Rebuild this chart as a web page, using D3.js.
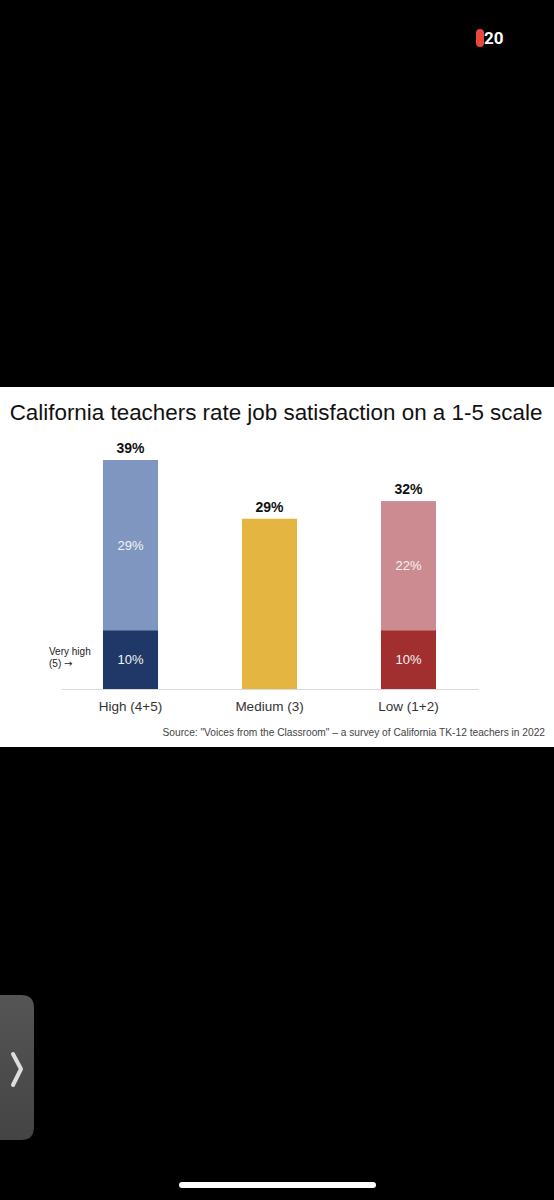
<!DOCTYPE html>
<html>
<head>
<meta charset="utf-8">
<script src="https://cdn.jsdelivr.net/npm/d3@7"></script>
<style>
  html, body { margin: 0; padding: 0; background: #000; }
  svg { display: block; }
</style>
</head>
<body>
<script>
// chart data
var categories = ["High (4+5)", "Medium (3)", "Low (1+2)"];
var totals = [39, 29, 32];
var topParts = [29, 29, 22];     // upper segment of each bar
var bottomParts = [10, 0, 10];   // "very high" / "very low" segment
var totalLabels = ["39%", "29%", "32%"];
var topLabels = ["29%", "", "22%"];
var bottomLabels = ["10%", "", "10%"];

var svgWidth = 554, svgHeight = 1200;

var svg = d3.select("body").append("svg")
    .attr("width", svgWidth)
    .attr("height", svgHeight);

// black phone background
svg.append("rect").attr("width", svgWidth).attr("height", svgHeight).attr("fill", "#000");

// status counter top right
svg.append("rect")
    .attr("x", 476).attr("y", 29).attr("width", 8).attr("height", 18)
    .attr("rx", 4).attr("fill", "#e8483a");
svg.append("text")
    .attr("x", 484).attr("y", 44)
    .attr("font-family", "Roboto, 'Open Sans', sans-serif")
    .attr("font-weight", "bold")
    .attr("font-size", "17px")
    .attr("fill", "#fff")
    .text("20");

// white chart panel
svg.append("rect")
    .attr("x", 0).attr("y", 387).attr("width", svgWidth).attr("height", 360)
    .attr("fill", "#fff");

svg.append("text")
    .attr("x", 276).attr("y", 420)
    .attr("text-anchor", "middle")
    .attr("font-family", "'Liberation Sans', Arial, sans-serif")
    .attr("font-size", "22.4px")
    .attr("fill", "#111")
    .text("California teachers rate job satisfaction on a 1-5 scale");

// scales
var baseY = 689;
var x = d3.scaleBand()
    .domain(categories)
    .range([61, 478])
    .paddingInner(0.604)
    .paddingOuter(0.302);

var y = d3.scaleLinear()
    .domain([0, 39])
    .range([baseY, 460]);

var colorsTop = ["#7f96c0", "#e5b541", "#cc8b91"];
var colorsBottom = ["#1f3868", "#e5b541", "#a22f2f"];

var chartGroup = svg.append("g");

// baseline axis
var xAxis = d3.axisBottom(x).tickSize(0).tickPadding(12);
var axisG = chartGroup.append("g")
    .attr("transform", "translate(0," + baseY + ")")
    .call(xAxis);
axisG.select(".domain").attr("stroke", "#d9d9d9").attr("stroke-width", 1.2);
axisG.selectAll("text")
    .attr("font-family", "'Liberation Sans', Arial, sans-serif")
    .attr("font-size", "13.5px")
    .attr("fill", "#333");

// upper segments
chartGroup.selectAll(".top-bar")
    .data(categories)
    .enter().append("rect")
    .attr("class", "top-bar")
    .attr("x", function(d) { return x(d); })
    .attr("width", x.bandwidth())
    .attr("y", function(d, i) { return y(totals[i]); })
    .attr("height", function(d, i) { return y(bottomParts[i]) - y(totals[i]); })
    .attr("fill", function(d, i) { return colorsTop[i]; });

// lower segments
chartGroup.selectAll(".bottom-bar")
    .data(categories)
    .enter().append("rect")
    .attr("class", "bottom-bar")
    .attr("x", function(d) { return x(d); })
    .attr("width", x.bandwidth())
    .attr("y", function(d, i) { return y(bottomParts[i]); })
    .attr("height", function(d, i) { return y(0) - y(bottomParts[i]); })
    .attr("fill", function(d, i) { return colorsBottom[i]; });

// total labels
chartGroup.selectAll(".total")
    .data(categories)
    .enter().append("text")
    .attr("class", "total")
    .attr("x", function(d) { return x(d) + x.bandwidth() / 2; })
    .attr("y", function(d, i) { return y(totals[i]) - 7; })
    .attr("text-anchor", "middle")
    .attr("font-family", "'Liberation Sans', Arial, sans-serif")
    .attr("font-weight", "bold")
    .attr("font-size", "14px")
    .attr("fill", "#111")
    .text(function(d, i) { return totalLabels[i]; });

// segment labels
chartGroup.selectAll(".top-label")
    .data(categories)
    .enter().append("text")
    .attr("class", "top-label")
    .attr("x", function(d) { return x(d) + x.bandwidth() / 2; })
    .attr("y", function(d, i) { return (y(totals[i]) + y(bottomParts[i])) / 2 + 4.5; })
    .attr("text-anchor", "middle")
    .attr("font-family", "'Liberation Sans', Arial, sans-serif")
    .attr("font-size", "13px")
    .attr("fill", "#f4f4f4")
    .text(function(d, i) { return topLabels[i]; });

chartGroup.selectAll(".bottom-label")
    .data(categories)
    .enter().append("text")
    .attr("class", "bottom-label")
    .attr("x", function(d) { return x(d) + x.bandwidth() / 2; })
    .attr("y", function(d, i) { return (y(0) + y(bottomParts[i])) / 2 + 4.5; })
    .attr("text-anchor", "middle")
    .attr("font-family", "'Liberation Sans', Arial, sans-serif")
    .attr("font-size", "13px")
    .attr("fill", "#f4f4f4")
    .text(function(d, i) { return bottomLabels[i]; });

// "Very high (5) ->" annotation
var note = chartGroup.append("text")
    .attr("font-family", "'Liberation Sans', Arial, sans-serif")
    .attr("font-size", "10px")
    .attr("fill", "#222");
note.append("tspan").attr("x", 49).attr("y", 655).text("Very high");
note.append("tspan").attr("x", 49).attr("y", 667).text("(5) ");
note.append("tspan").attr("font-family", "'DejaVu Sans', sans-serif").attr("font-size", "10px").text("\u2192");

// source
svg.append("text")
    .attr("x", 545).attr("y", 736)
    .attr("text-anchor", "end")
    .attr("font-family", "'Liberation Sans', Arial, sans-serif")
    .attr("font-size", "10.2px")
    .attr("fill", "#444")
    .text("Source: \"Voices from the Classroom\" \u2013 a survey of California TK-12 teachers in 2022");

// side tab bottom left
var grad = svg.append("defs").append("linearGradient")
    .attr("id", "tabGrad").attr("x1", 0).attr("y1", 0).attr("x2", 0).attr("y2", 1);
grad.append("stop").attr("offset", "0%").attr("stop-color", "#555");
grad.append("stop").attr("offset", "100%").attr("stop-color", "#444");
svg.append("path")
    .attr("d", "M0,995 H21 Q34,995 34,1008 V1127 Q34,1140 21,1140 H0 Z")
    .attr("fill", "url(#tabGrad)");
svg.append("path")
    .attr("d", "M13,1054 L21,1069 L13,1085")
    .attr("fill", "none")
    .attr("stroke", "#ddd")
    .attr("stroke-width", 4)
    .attr("stroke-linecap", "round")
    .attr("stroke-linejoin", "round");

// home indicator
svg.append("rect")
    .attr("x", 179).attr("y", 1182).attr("width", 197).attr("height", 6)
    .attr("rx", 3).attr("fill", "#fff");
</script>
</body>
</html>
